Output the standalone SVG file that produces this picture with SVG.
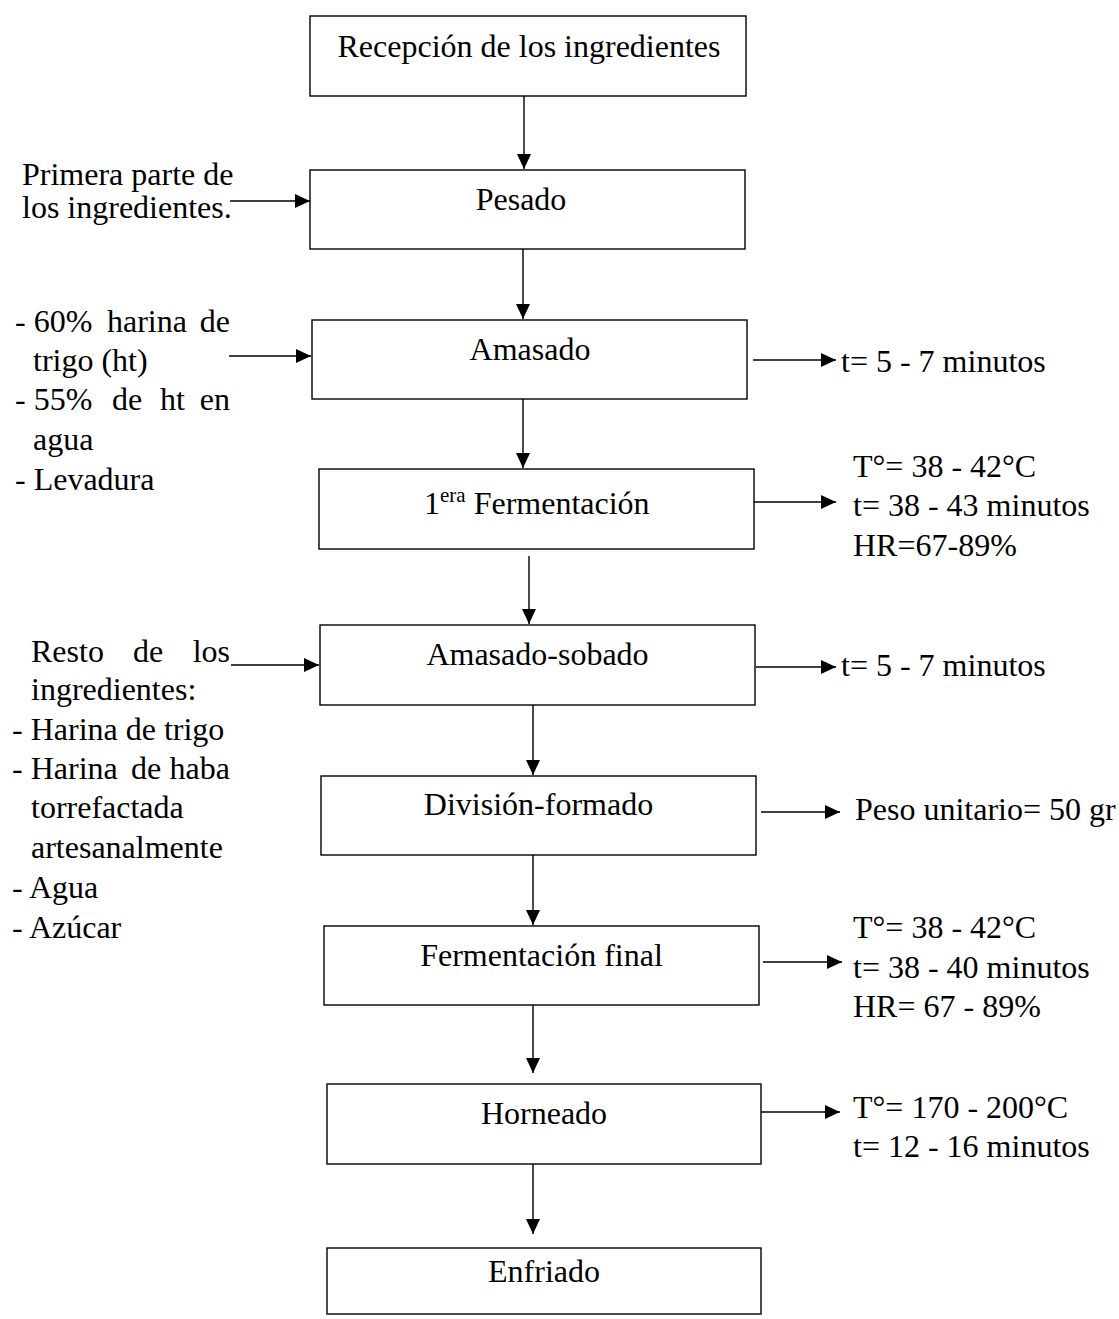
<svg xmlns="http://www.w3.org/2000/svg" width="1119" height="1319" viewBox="0 0 1119 1319">
<defs>
<marker id="ah" markerUnits="userSpaceOnUse" markerWidth="15" markerHeight="14" refX="15" refY="7" orient="auto">
<path d="M0,0 L15,7 L0,14 z" fill="#000"/>
</marker>
<style>
text{font-family:"Liberation Serif","Times New Roman",serif;font-size:32px;fill:#000}
.box{fill:#fff;stroke:#000;stroke-width:1.4}
.c{text-anchor:middle}
.e{text-anchor:end}
#connectors line{stroke:#000;stroke-width:1.4;marker-end:url(#ah)}
</style>
</defs>
<rect width="1119" height="1319" fill="#fff"/>
<g id="connectors">
<line x1="524" y1="96" x2="524" y2="169"/>
<line x1="523" y1="249" x2="523" y2="319"/>
<line x1="523" y1="399" x2="523" y2="468"/>
<line x1="529" y1="556" x2="529" y2="624"/>
<line x1="533" y1="705" x2="533" y2="775"/>
<line x1="533" y1="855" x2="533" y2="925"/>
<line x1="533" y1="1005" x2="533" y2="1073"/>
<line x1="533" y1="1164" x2="533" y2="1234"/>
<line x1="230" y1="201" x2="310" y2="201"/>
<line x1="229" y1="356" x2="311" y2="356"/>
<line x1="231" y1="665" x2="319" y2="665"/>
<line x1="753" y1="360" x2="836" y2="360"/>
<line x1="754" y1="502" x2="836" y2="502"/>
<line x1="756" y1="667" x2="836" y2="667"/>
<line x1="761" y1="812" x2="840" y2="812"/>
<line x1="763" y1="962" x2="842" y2="962"/>
<line x1="761" y1="1112" x2="840" y2="1112"/>
</g>
<g id="n1"><rect class="box" x="310" y="16" width="436" height="80"/><text class="c" x="529" y="57">Recepción de los ingredientes</text></g>
<g id="n2"><rect class="box" x="310" y="170" width="435" height="79"/><text class="c" x="521" y="210">Pesado</text></g>
<g id="n3"><rect class="box" x="312" y="320" width="435" height="79"/><text class="c" x="530" y="360">Amasado</text></g>
<g id="n4"><rect class="box" x="319" y="469" width="435" height="80"/><text x="424" y="514">1<tspan font-size="21" dy="-12">era</tspan><tspan dy="12"> Fermentación</tspan></text></g>
<g id="n5"><rect class="box" x="320" y="625" width="435" height="80"/><text class="c" x="537.5" y="665">Amasado-sobado</text></g>
<g id="n6"><rect class="box" x="321" y="776" width="435" height="79"/><text class="c" x="538.5" y="815">División-formado</text></g>
<g id="n7"><rect class="box" x="324" y="926" width="435" height="79"/><text class="c" x="541.5" y="966">Fermentación final</text></g>
<g id="n8"><rect class="box" x="327" y="1084" width="434" height="80"/><text class="c" x="544" y="1124">Horneado</text></g>
<g id="n9"><rect class="box" x="327" y="1248" width="434" height="66"/><text class="c" x="544" y="1282">Enfriado</text></g>
<g id="in1">
<text x="22" y="185">Primera parte de</text>
<text x="22" y="218">los ingredientes.</text>
</g>
<g id="in2">
<text y="332"><tspan x="15">- 60%</tspan><tspan x="107">harina</tspan></text>
<text class="e" x="230" y="332">de</text>
<text x="33" y="371">trigo (ht)</text>
<text y="410"><tspan x="15">- 55%</tspan><tspan x="112">de</tspan><tspan x="160">ht</tspan></text>
<text class="e" x="230" y="410">en</text>
<text x="33" y="450">agua</text>
<text x="15" y="490">- Levadura</text>
</g>
<g id="in3">
<text y="662"><tspan x="31">Resto</tspan><tspan x="133">de</tspan></text>
<text class="e" x="230" y="662">los</text>
<text x="31" y="700">ingredientes:</text>
<text x="12" y="740">- Harina de trigo</text>
<text y="779"><tspan x="12">- Harina</tspan><tspan x="131">de</tspan></text>
<text class="e" x="230" y="779">haba</text>
<text x="31" y="818">torrefactada</text>
<text x="31" y="858">artesanalmente</text>
<text x="12" y="898">- Agua</text>
<text x="12" y="938">- Azúcar</text>
</g>
<g id="out1"><text x="841" y="372">t= 5 - 7 minutos</text></g>
<g id="out2">
<text x="853" y="477">T°= 38 - 42°C</text>
<text x="853" y="516">t= 38 - 43 minutos</text>
<text x="853" y="556">HR=67-89%</text>
</g>
<g id="out3"><text x="841" y="676">t= 5 - 7 minutos</text></g>
<g id="out4"><text x="855" y="820">Peso unitario= 50 gr</text></g>
<g id="out5">
<text x="853" y="938">T°= 38 - 42°C</text>
<text x="853" y="978">t= 38 - 40 minutos</text>
<text x="853" y="1017">HR= 67 - 89%</text>
</g>
<g id="out6">
<text x="853" y="1118">T°= 170 - 200°C</text>
<text x="853" y="1157">t= 12 - 16 minutos</text>
</g>
</svg>
